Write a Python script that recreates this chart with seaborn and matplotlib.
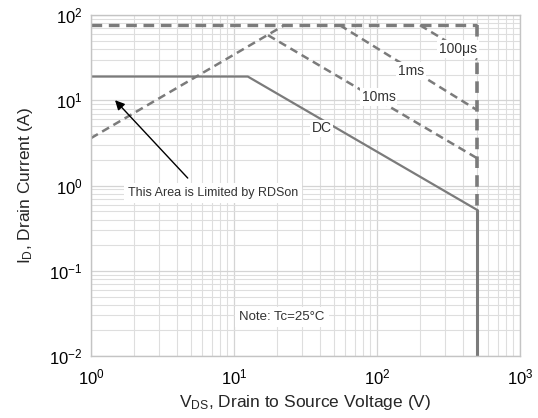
import matplotlib
matplotlib.use("Agg")
import matplotlib.pyplot as plt
import pandas as pd
import seaborn as sns

# safe operating area
v_max = 500.0          # drain-source breakdown (V)
i_max = 76.0           # pulsed drain current limit (A)

rds_v = [1.0, 22.5]    # RDSon limited region
rds_i = [3.6, 76.0]

p10ms_v = [17.3, 500.0]
p10ms_i = [58.0, 2.1]

p1ms_v = [55.0, 500.0]
p1ms_i = [76.0, 7.7]

p100us_v = [200.0, 500.0]
p100us_i = [76.0, 30.0]

dc_v = [1.0, 12.5, 500.0]
dc_i = [19.0, 19.0, 0.52]

curve_labels = ["100\u03bcs", "1ms", "10ms", "DC"]
label_v = [368.0, 173.0, 103.0, 41.0]
label_i = [40.0, 22.0, 10.9, 4.7]

sns.set_theme(style="whitegrid")
plt.rcParams["font.family"] = ["Liberation Sans", "DejaVu Sans"]
plt.rcParams["mathtext.default"] = "regular"

fig = plt.figure(figsize=(5.38, 4.18), dpi=100)
ax = fig.add_axes([0.169, 0.148, 0.7975, 0.816])

col = "#7b7b7b"
dash = (3.2, 2.0)


def seg(x, y, lw=1.8, dashed=True):
    df = pd.DataFrame({"V": x, "I": y})
    sns.lineplot(data=df, x="V", y="I", ax=ax, color=col, lw=lw,
                 sort=False, estimator=None)
    l = ax.get_lines()[-1]
    if dashed:
        l.set_dashes(dash)
    return l


seg([1.0, v_max], [i_max, i_max], lw=2.4)
seg([v_max, v_max], [i_max, dc_i[-1]], lw=2.6)
seg([v_max, v_max], [dc_i[-1], 0.01], lw=2.2, dashed=False)
seg(rds_v, rds_i)
seg(p10ms_v, p10ms_i)
seg(p1ms_v, p1ms_i)
seg(p100us_v, p100us_i)
seg(dc_v, dc_i, lw=1.6, dashed=False)

ax.set_xscale("log")
ax.set_yscale("log")
ax.set_xlim(1, 1000)
ax.set_ylim(0.01, 100)

ax.grid(True, which="major", color="#d4d4d4", lw=0.9)
ax.grid(True, which="minor", color="#dedede", lw=0.8)
ax.minorticks_on()
ax.tick_params(which="both", length=0, labelsize=12, colors="black")
ax.tick_params(axis="x", pad=8)
ax.tick_params(axis="y", pad=6)
for s in ax.spines.values():
    s.set_color("#c4c4c4")
    s.set_linewidth(1.0)

ax.set_xlabel("V$_{DS}$, Drain to Source Voltage (V)", fontsize=12.5, labelpad=4)
ax.set_ylabel("I$_D$, Drain Current (A)", fontsize=12.5, labelpad=10)

# curve labels with white boxes
box = dict(boxstyle="square,pad=0.12", fc="white", ec="none")
for name, x, y in zip(curve_labels, label_v, label_i):
    ax.text(x, y, name, fontsize=10, ha="center", va="center", bbox=box, color="#333333")

ax.annotate("", xy=(1.43, 10.6), xytext=(4.9, 1.16),
            arrowprops=dict(arrowstyle="-|>", color="black", lw=1.0, mutation_scale=14))
ax.text(7.1, 0.82, "This Area is Limited by RDSon", fontsize=9, ha="center", va="center",
        bbox=dict(boxstyle="square,pad=0.3", fc="white", ec="none"), color="#333333")
ax.text(21.7, 0.029, "Note: Tc=25\u00b0C", fontsize=9.5, ha="center", va="center",
        bbox=dict(boxstyle="square,pad=0.3", fc="white", ec="none"), color="#333333")

fig.savefig("out.png", dpi=100)
